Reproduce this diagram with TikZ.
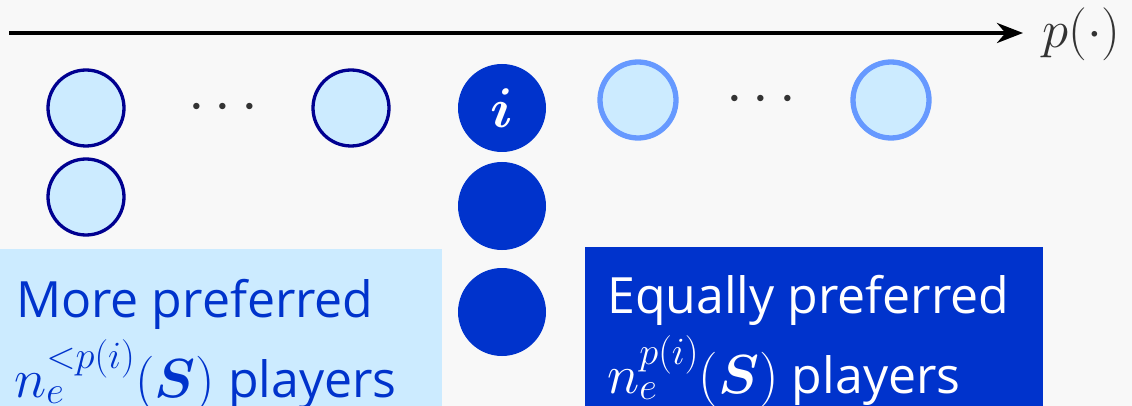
\RequirePackage{fix-cm}
\documentclass[tikz,border=0pt]{standalone}
\usepackage{amsmath,amssymb,bm}
\usepackage{fontspec}
\setmainfont{Open Sans}
\usetikzlibrary{arrows.meta,positioning}

\definecolor{bggrey}{HTML}{F8F8F8}
\definecolor{paleblue}{HTML}{CCEBFF}
\definecolor{navyedge}{HTML}{000090}
\definecolor{skyedge}{HTML}{6699FF}
\definecolor{deepblue}{HTML}{0033CC}
\definecolor{inkgrey}{HTML}{333333}

\newcommand{\bigmath}[1]{{\fontsize{55}{55}\selectfont$#1$}}

\tikzset{
  morep/.style={circle,draw=navyedge,line width=3.3pt,fill=paleblue,
    minimum size=76pt,inner sep=0pt},
  samep/.style={circle,fill=deepblue,minimum size=88pt,inner sep=0pt,
    text=white,font=\fontsize{56}{56}\selectfont},
  laterp/.style={circle,draw=skyedge,line width=5.3pt,fill=paleblue,
    minimum size=76pt,inner sep=0pt},
  dotsnode/.style={text=inkgrey,font=\fontsize{60}{60}\selectfont,
    inner sep=0pt,anchor=base},
  groupbox/.style={anchor=north west,inner sep=0pt},
  boxtext/.style={anchor=base west,inner sep=0pt,
    font=\fontsize{50}{50}\selectfont}
}

\begin{document}
\begin{tikzpicture}[x=1pt,y=-1pt]
  \fill[bggrey] (0,0) rectangle (1132,406);
  \path[use as bounding box] (0,0) rectangle (1132,406);

  % preference axis
  \coordinate (axstart) at (9,33);
  \coordinate (axend) at (1023,33);
  \draw[line width=4pt,-{Stealth[length=26pt,width=20pt]}] (axstart) -- (axend);
  \node[anchor=base west,inner sep=0pt,text=inkgrey,
    font=\fontsize{53}{53}\selectfont] (plabel) at (1042,48) {$p(\cdot)$};

  % players
  \node[morep] (m1) at (86,108) {};
  \node[dotsnode] (mdots) at (228,122) {$\cdots$};
  \node[morep] (m2) at (351,108) {};
  \node[morep] (m3) at (86,197) {};

  \node[samep] (i1) at (502,108) {$\boldsymbol{i}$};
  \node[samep] (i2) at (502,206) {};
  \node[samep] (i3) at (502,312) {};

  \node[laterp] (l1) at (638,100) {};
  \node[dotsnode] (ldots) at (766,114) {$\cdots$};
  \node[laterp] (l2) at (891,100) {};

  % groups
  \node[groupbox,fill=paleblue,minimum width=442pt,minimum height=157pt]
    (morebox) at (0,249) {};
  \node[boxtext,text=deepblue] (moretxt) at (16,317) {More preferred};
  \node[boxtext,text=deepblue] (morecnt) at (14,397)
    {\bigmath{n_e^{<p(i)}(\boldsymbol{S})} players};

  \node[groupbox,fill=deepblue,minimum width=458pt,minimum height=159pt]
    (samebox) at (585,247) {};
  \node[boxtext,text=white] (sametxt) at (607,313) {Equally preferred};
  \node[boxtext,text=white] (samecnt) at (607,393)
    {\bigmath{n_e^{p(i)}(\boldsymbol{S})} players};
\end{tikzpicture}
\end{document}
